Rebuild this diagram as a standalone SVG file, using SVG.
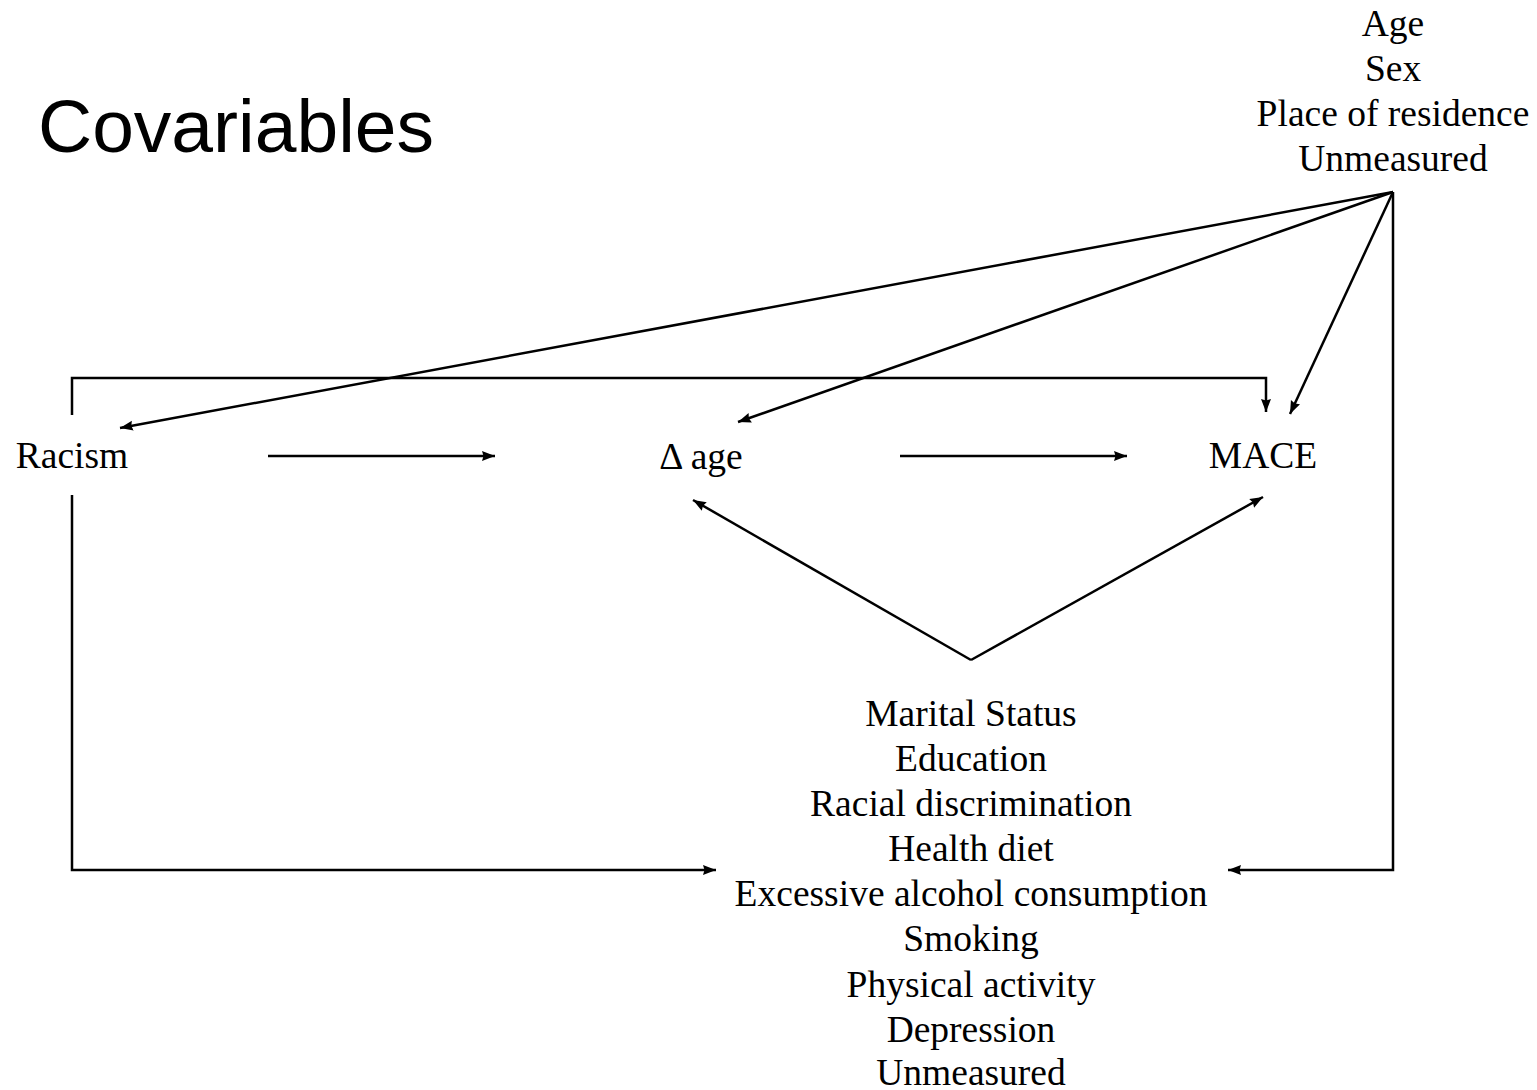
<svg xmlns="http://www.w3.org/2000/svg" width="1537" height="1090" viewBox="0 0 1537 1090">
<style>
.t{font-family:"Liberation Serif","Times New Roman",serif;font-size:37.5px;fill:#000;text-anchor:middle}
.h{font-family:"Liberation Sans",Arial,sans-serif;font-size:75px;fill:#000}
.c{fill:none;stroke:#000;stroke-width:2.5}
</style>
<defs>
<marker id="a" markerUnits="userSpaceOnUse" markerWidth="16" markerHeight="12" refX="13" refY="6" orient="auto">
<path d="M0,1 L13,6 L0,11 L1.5,6 Z" fill="#000"/>
</marker>
</defs>
<rect width="1537" height="1090" fill="#fff"/>
<text class="h" x="38" y="152">Covariables</text>
<g id="conf-top">
<text class="t" x="1393" y="36">Age</text>
<text class="t" x="1393" y="81">Sex</text>
<text class="t" x="1393" y="126">Place of residence</text>
<text class="t" x="1393" y="171">Unmeasured</text>
</g>
<g id="racism"><text class="t" x="72" y="468">Racism</text></g>
<g id="dage"><text class="t" x="701" y="469">Δ age</text></g>
<g id="mace"><text class="t" x="1263" y="468">MACE</text></g>
<g id="conf-bottom">
<text class="t" x="971" y="726">Marital Status</text>
<text class="t" x="971" y="771">Education</text>
<text class="t" x="971" y="816">Racial discrimination</text>
<text class="t" x="971" y="861">Health diet</text>
<text class="t" x="971" y="906">Excessive alcohol consumption</text>
<text class="t" x="971" y="951">Smoking</text>
<text class="t" x="971" y="997">Physical activity</text>
<text class="t" x="971" y="1042">Depression</text>
<text class="t" x="971" y="1085">Unmeasured</text>
</g>
<g id="connectors">
<path class="c" d="M1393,192 L120,428" marker-end="url(#a)"/>
<path class="c" d="M1393,192 L738,422" marker-end="url(#a)"/>
<path class="c" d="M1393,192 L1290,414" marker-end="url(#a)"/>
<path class="c" d="M1393,192 L1393,870 L1228,870" marker-end="url(#a)"/>
<path class="c" d="M72,415 L72,378 L1266,378 L1266,412" marker-end="url(#a)"/>
<path class="c" d="M268,456 L495,456" marker-end="url(#a)"/>
<path class="c" d="M900,456 L1127,456" marker-end="url(#a)"/>
<path class="c" d="M971,660 L693,500" marker-end="url(#a)"/>
<path class="c" d="M971,660 L1263,497" marker-end="url(#a)"/>
<path class="c" d="M72,495 L72,870 L716,870" marker-end="url(#a)"/>
</g>
</svg>
